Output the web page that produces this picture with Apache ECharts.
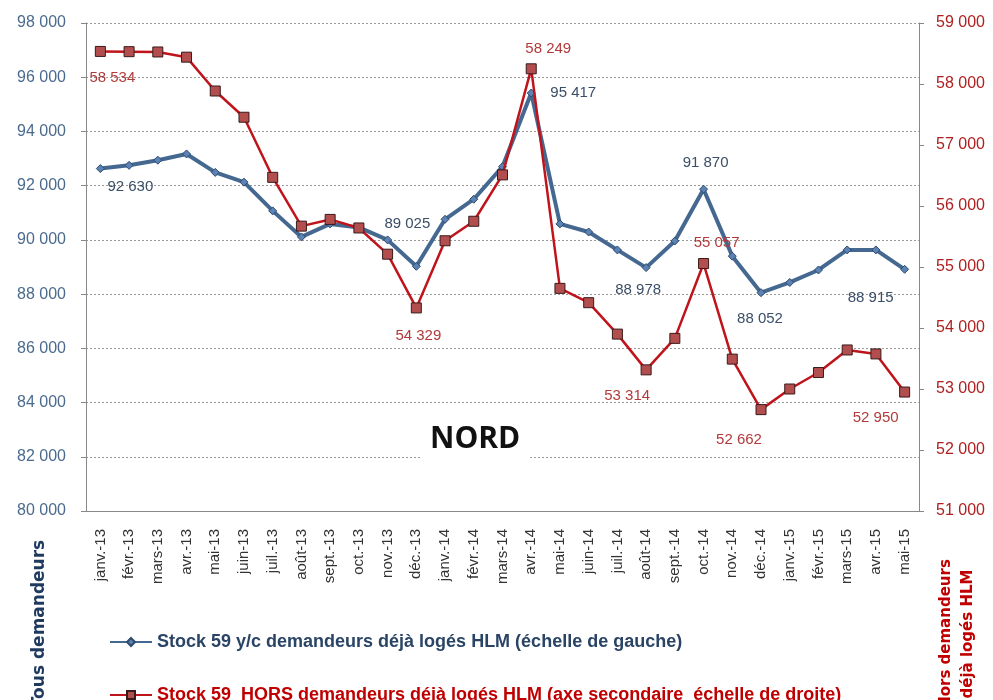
<!DOCTYPE html>
<html>
<head>
<meta charset="utf-8">
<script src="https://cdn.jsdelivr.net/npm/echarts@6/dist/echarts.min.js"></script>
<style>
  html, body { margin: 0; padding: 0; background: #fff; }
  #chart { width: 993px; height: 700px; }
</style>
</head>
<body>
<div id="chart"></div>
<script>
// mois
var months = ['janv.-13','févr.-13','mars-13','avr.-13','mai-13','juin-13','juil.-13','août-13','sept.-13','oct.-13','nov.-13','déc.-13',
  'janv.-14','févr.-14','mars-14','avr.-14','mai-14','juin-14','juil.-14','août-14','sept.-14','oct.-14','nov.-14','déc.-14',
  'janv.-15','févr.-15','mars-15','avr.-15','mai-15'];

// Stock 59 y/c demandeurs déjà logés HLM (échelle de gauche)
var stockTous = [92630, 92750, 92940, 93170, 92490, 92130, 91070, 90110, 90590, 90460, 90000, 89025,
  90760, 91500, 92700, 95417, 90590, 90290, 89630, 88978, 89960, 91870, 89400, 88052,
  88430, 88890, 89630, 89630, 88915];

// Stock 59 HORS demandeurs déjà logés HLM (échelle de droite)
var stockHors = [58534, 58530, 58525, 58440, 57885, 57455, 56470, 55670, 55780, 55640, 55210, 54329,
  55430, 55750, 56510, 58249, 54650, 54415, 53900, 53314, 53830, 55057, 53490, 52662,
  53000, 53270, 53640, 53575, 52950];

var nameTous = 'Stock 59 y/c demandeurs déjà logés HLM (échelle de gauche)';
var nameHors = 'Stock 59  HORS demandeurs déjà logés HLM (axe secondaire  échelle de droite)';

// points étiquetés : index -> décalage du texte
var tousLabels = { 0: [30, 18], 11: [-9, -42], 15: [42, 0], 19: [-8, 22], 21: [2, -26], 23: [-1, 26], 28: [-34, 29] };
var horsLabels = { 0: [12, 26], 11: [2, 28], 15: [17, -20], 19: [-19, 26], 21: [13, -21], 23: [-22, 30], 28: [-29, 26] };

var FONT = '"Liberation Sans", Arial, sans-serif';

function fmt(v) {
  return String(v).replace(/\B(?=(\d{3})+(?!\d))/g, ' ');
}

function withLabels(values, labels, color) {
  return values.map(function (v, i) {
    if (!labels[i]) return v;
    return {
      value: v,
      label: {
        show: true,
        position: 'inside',
        offset: labels[i],
        formatter: function (p) { return fmt(p.value); },
        color: color,
        fontSize: 15,
        fontFamily: FONT
      }
    };
  });
}

var myChart = echarts.init(document.getElementById('chart'));

var legendBase = {
  left: 104,
  itemWidth: 42,
  itemHeight: 10,
  textStyle: { fontSize: 18, fontWeight: 'bold', fontFamily: FONT }
};

var option = {
  backgroundColor: '#fff',
  animation: false,
  title: {
    text: 'NORD',
    left: 420,
    top: 418,
    backgroundColor: '#fff',
    padding: [6, 10],
    textStyle: { fontSize: 30, fontWeight: 'bold', color: '#111', fontFamily: '"Open Sans", sans-serif' }
  },
  grid: { left: 86, right: 74, top: 23, bottom: 189 },
  legend: [
    Object.assign({}, legendBase, {
      top: 628,
      data: [{ name: nameTous, textStyle: { color: '#2a4466' } }]
    }),
    Object.assign({}, legendBase, {
      top: 681,
      data: [{ name: nameHors, textStyle: { color: '#c00000' } }]
    })
  ],
  xAxis: {
    type: 'category',
    data: months,
    boundaryGap: true,
    axisLine: { lineStyle: { color: '#888' } },
    axisTick: { length: 6, lineStyle: { color: '#888' } },
    axisLabel: { rotate: 90, interval: 0, fontSize: 15, color: '#333', fontFamily: FONT, margin: 18 }
  },
  yAxis: [
    {
      type: 'value',
      min: 80000, max: 98000, interval: 2000,
      axisLine: { show: true, lineStyle: { color: '#888' } },
      axisTick: { show: true, length: 5, lineStyle: { color: '#888' } },
      splitLine: { lineStyle: { color: '#999', type: [2, 2] } },
      axisLabel: { fontSize: 16, color: '#4a6a8e', fontFamily: FONT, margin: 20, formatter: fmt }
    },
    {
      type: 'value',
      min: 51000, max: 59000, interval: 1000,
      axisLine: { show: true, lineStyle: { color: '#888' } },
      axisTick: { show: true, length: 5, lineStyle: { color: '#888' } },
      splitLine: { show: false },
      axisLabel: { fontSize: 16, color: '#b02020', fontFamily: FONT, margin: 17, formatter: fmt }
    }
  ],
  series: [
    {
      name: nameTous,
      type: 'line',
      yAxisIndex: 0,
      data: withLabels(stockTous, tousLabels, '#3a4e66'),
      symbol: 'diamond',
      symbolSize: 8,
      lineStyle: { color: '#456891', width: 4 },
      itemStyle: { color: '#5a82b4', borderColor: '#2f4a6a', borderWidth: 1 },
      z: 2
    },
    {
      name: nameHors,
      type: 'line',
      yAxisIndex: 1,
      data: withLabels(stockHors, horsLabels, '#b23a3a'),
      symbol: 'rect',
      symbolSize: 10,
      lineStyle: { color: '#c0141c', width: 2.5 },
      itemStyle: { color: '#b34e4e', borderColor: '#3a1a1a', borderWidth: 1 },
      z: 3
    }
  ],
  graphic: [
    {
      type: 'text',
      x: 40, y: 624,
      rotation: Math.PI / 2,
      style: {
        text: 'Tous demandeurs',
        fill: '#1f3a5f',
        font: 'bold 17px "DejaVu Sans", sans-serif',
        align: 'center',
        verticalAlign: 'middle'
      }
    },
    {
      type: 'text',
      x: 957, y: 634,
      rotation: Math.PI / 2,
      style: {
        text: 'Hors demandeurs\ndéjà logés HLM',
        fill: '#c00000',
        font: 'bold 15px "DejaVu Sans", sans-serif',
        align: 'center',
        verticalAlign: 'middle',
        lineHeight: 22
      }
    }
  ]
};

myChart.setOption(option);
</script>
</body>
</html>
